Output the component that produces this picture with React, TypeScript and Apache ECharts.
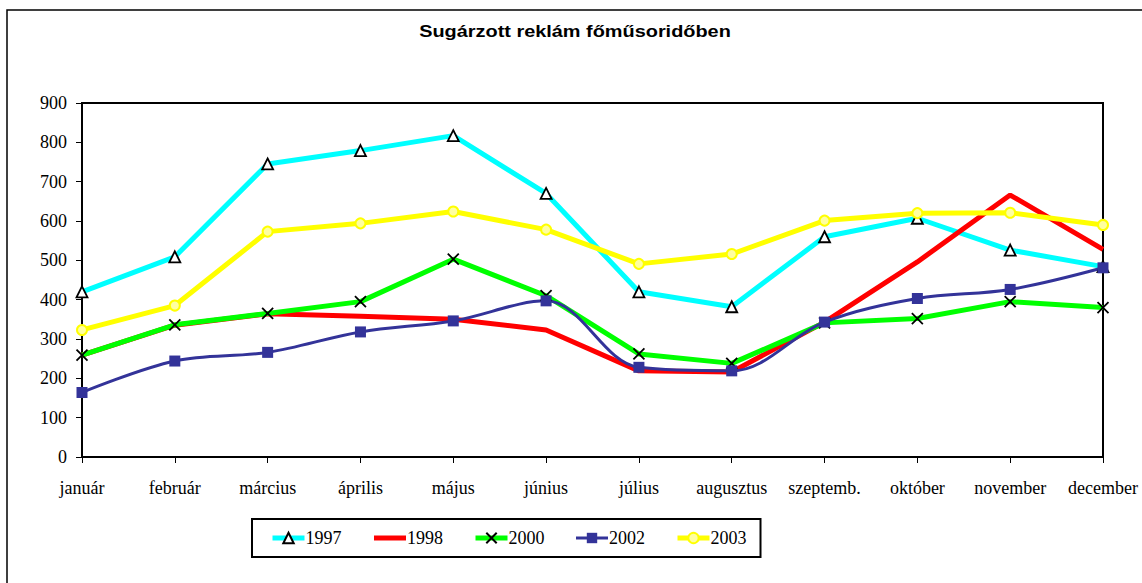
import React, { useEffect, useRef } from "react";
import * as echarts from "echarts";

const months = ["január", "február", "március", "április", "május", "június", "július", "augusztus", "szeptemb.", "október", "november", "december"];
const s1997 = [420, 509, 745, 779, 817, 670, 420, 382, 560, 607, 526, 484];
const s1998 = [259, 335, 364, 358, 350, 323, 219, 216, 343, 496, 666, 528];
const s2000 = [259, 336, 365, 395, 503, 410, 262, 238, 341, 352, 395, 380];
const s2002 = [164, 244, 266, 318, 346, 397, 228, 219, 343, 403, 426, 481];
const s2003 = [323, 385, 573, 594, 624, 578, 491, 516, 601, 620, 621, 590];
const seriesNames = ["1997", "1998", "2000", "2002", "2003"];
const yTicks = { min: 0, max: 900, interval: 100 };
const title = "Sugárzott reklám főműsoridőben";

const serif = "Liberation Serif";
const sans = "Liberation Sans";

const colors = ["#00FFFF", "#FF0000", "#00FF00", "#333399", "#FFFF00"];
const widths = [5, 5, 5, 3, 5];

export default function App() {
  const ref = useRef<HTMLDivElement>(null);
  useEffect(() => {
    if (!ref.current) return;
    const chart = echarts.init(ref.current, null, { renderer: "svg" });
    chart.setOption({
      animation: false,
      backgroundColor: "#fff",
      graphic: [
        {
          type: "rect",
          z: -10,
          shape: { x: 7, y: 10, width: 1145, height: 590 },
          style: { fill: "none", stroke: "#000", lineWidth: 1.5 },
        },
        {
          type: "text",
          x: 575,
          y: 31,
          scaleX: 1.17,
          style: {
            text: title,
            fontFamily: sans,
            fontSize: 17,
            fontWeight: "bold",
            fill: "#000",
            align: "center",
            verticalAlign: "middle",
          },
        },
      ],
      legend: {
        data: seriesNames.map((n, i) => ({
          name: n,
          lineStyle: { width: widths[i], color: colors[i] },
        })),
        left: 252,
        top: 519,
        padding: [10, 14, 10, 18],
        itemGap: 30,
        itemWidth: 32,
        itemHeight: 13,
        borderColor: "#000",
        borderWidth: 2,
        textStyle: { fontFamily: serif, fontSize: 18, color: "#000", padding: [0, 0, 0, -4] },
      },
      grid: { left: 82, right: 39, top: 103, bottom: 126, show: true, borderColor: "#000", borderWidth: 2 },
      xAxis: {
        type: "category",
        data: months,
        boundaryGap: false,
        axisLine: { lineStyle: { color: "#000", width: 2 } },
        axisTick: { show: true, length: 6, lineStyle: { color: "#000", width: 1 } },
        axisLabel: { fontFamily: serif, fontSize: 18, color: "#000", margin: 22, interval: 0 },
        splitLine: { show: false },
      },
      yAxis: {
        type: "value",
        min: yTicks.min,
        max: yTicks.max,
        interval: yTicks.interval,
        axisLine: { show: true, lineStyle: { color: "#000", width: 2 } },
        axisTick: { show: true, length: 6, lineStyle: { color: "#000", width: 1 } },
        axisLabel: { fontFamily: serif, fontSize: 18, color: "#000", margin: 15 },
        splitLine: { show: false },
      },
      series: [
        {
          name: "1997",
          type: "line",
          data: s1997,
          symbol: "triangle",
          symbolSize: 11,
          lineStyle: { color: colors[0], width: widths[0] },
          itemStyle: { color: "#fff", borderColor: "#000", borderWidth: 1.8 },
        },
        {
          name: "1998",
          type: "line",
          data: s1998,
          symbol: "none",
          lineStyle: { color: colors[1], width: widths[1] },
          itemStyle: { color: "rgba(0,0,0,0)", borderWidth: 0 },
        },
        {
          name: "2000",
          type: "line",
          data: s2000,
          symbol: "path://M0,0L10,10M0,10L10,0",
          symbolSize: 11,
          lineStyle: { color: colors[2], width: widths[2] },
          itemStyle: { color: "#000", borderColor: "#000", borderWidth: 1.8 },
        },
        {
          name: "2002",
          type: "line",
          data: s2002,
          smooth: 0.35,
          symbol: "rect",
          symbolSize: 11,
          lineStyle: { color: colors[3], width: widths[3] },
          itemStyle: { color: colors[3], borderColor: colors[3], borderWidth: 0 },
        },
        {
          name: "2003",
          type: "line",
          data: s2003,
          symbol: "circle",
          symbolSize: 10,
          lineStyle: { color: colors[4], width: widths[4] },
          itemStyle: { color: "#FFFFA0", borderColor: colors[4], borderWidth: 2 },
        },
      ],
    });
    return () => chart.dispose();
  }, []);
  return (
    <div
      ref={ref}
      style={{ position: "fixed", left: 0, top: 0, width: 1142, height: 583, background: "#fff" }}
    />
  );
}
